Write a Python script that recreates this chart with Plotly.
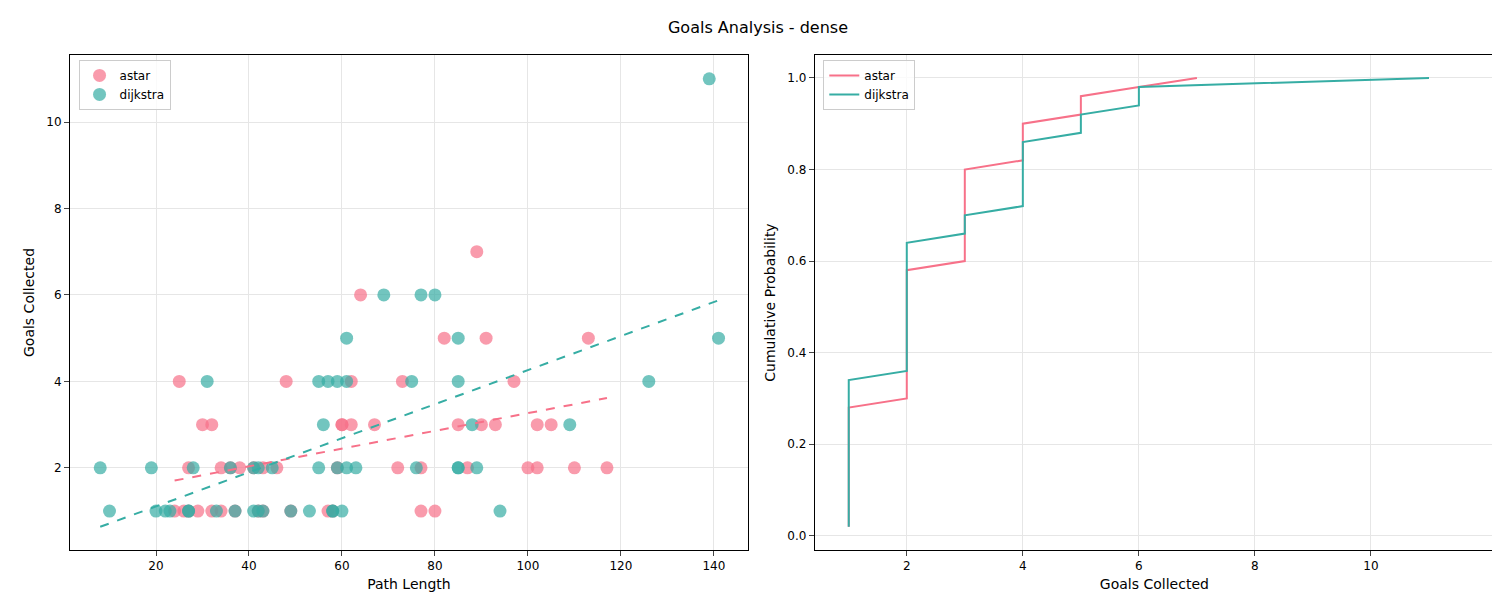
import numpy as np
import plotly.graph_objects as go

astar_x = [24,26,27,29,32,34,37,42,43,49,57,58,77,80,
           27,34,36,38,41,43,46,59,72,77,87,100,102,110,117,
           30,32,60,60,62,67,85,90,93,102,105,
           25,48,62,73,97, 82,91,113, 64, 89]
astar_y = [1]*14 + [2]*15 + [3]*11 + [4]*5 + [5]*3 + [6] + [7]

dij_x = [10,20,22,23,27,27,33,37,41,42,43,49,53,58,58,60,94,
         8,19,28,36,41,42,45,55,59,61,63,76,85,85,89,
         56,88,109,
         31,55,57,59,61,75,85,126,
         61,85,141,
         69,77,80,
         139]
dij_y = [1]*17 + [2]*15 + [3]*3 + [4]*8 + [5]*3 + [6]*3 + [11]

PINK = "#f77189"
TEAL = "#36ada4"

fig = go.Figure()
series = [("astar", astar_x, astar_y, PINK), ("dijkstra", dij_x, dij_y, TEAL)]
for name, xs, ys, c in series:
    fig.add_trace(go.Scatter(x=xs, y=ys, mode="markers", name=name,
                             marker=dict(size=13, color=c, opacity=0.7), xaxis="x", yaxis="y"))
for name, xs, ys, c in series:
    p = np.polyfit(xs, ys, 1)
    lx = np.array([min(xs), max(xs)])
    fig.add_trace(go.Scatter(x=lx, y=np.polyval(p, lx), mode="lines", showlegend=False,
                             line=dict(color=c, dash="dash", width=2), xaxis="x", yaxis="y"))
for name, xs, ys, c in series:
    s = np.sort(ys)
    cdf = np.arange(1, len(s) + 1) / len(s)
    fig.add_trace(go.Scatter(x=s, y=cdf, mode="lines", name=name, legend="legend2",
                             line=dict(color=c, width=2), xaxis="x2", yaxis="y2"))

ax = dict(showline=True, linecolor="black", mirror=True, ticks="outside", gridcolor="#e6e6e6",
          zeroline=False, automargin=False, tickfont=dict(size=12, color="black"))
fig.update_layout(
    width=1500, height=600, plot_bgcolor="white", paper_bgcolor="white",
    font=dict(family="DejaVu Sans", size=12, color="black"),
    margin=dict(l=62, r=14, t=47, b=58),
    title=dict(text="Goals Analysis - dense", x=0.5, y=0.967, yref="container",
               xanchor="center", yanchor="middle", font=dict(size=16), automargin=False),
    xaxis=dict(ax, domain=[0, 0.476], range=[1.5, 147.3], dtick=20,
               title=dict(text="Path Length", standoff=6)),
    yaxis=dict(ax, range=[0.1, 11.55], tickvals=[2,4,6,8,10],
               title=dict(text="Goals Collected", standoff=8)),
    xaxis2=dict(ax, domain=[0.523, 1], range=[0.414, 12.12], tickvals=[2,4,6,8,10],
                title=dict(text="Goals Collected", standoff=6), anchor="y2"),
    yaxis2=dict(ax, range=[-0.031, 1.05], dtick=0.2, tickformat=".1f", anchor="x2",
                title=dict(text="Cumulative Probability", standoff=8)),
    legend=dict(x=0.006, y=0.99, xanchor="left", yanchor="top", bordercolor="#cccccc",
                borderwidth=1, bgcolor="rgba(255,255,255,0.8)"),
    legend2=dict(x=0.529, y=0.99, xanchor="left", yanchor="top", bordercolor="#cccccc",
                 borderwidth=1, bgcolor="rgba(255,255,255,0.8)"),
)
fig.write_html("out.html")
